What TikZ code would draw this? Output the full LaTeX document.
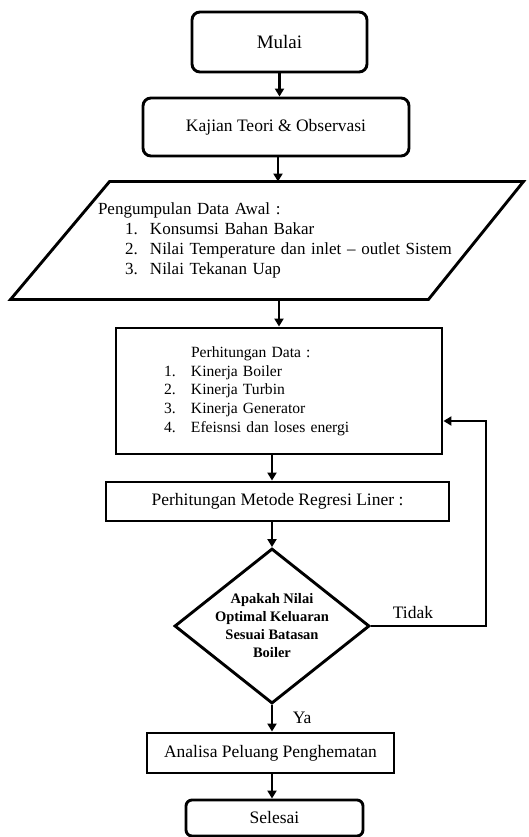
\documentclass[tikz,border=0pt]{standalone}
\usepackage{fontspec}
\setmainfont{Liberation Serif}
\usetikzlibrary{shapes.geometric,arrows.meta}
\begin{document}
\begin{tikzpicture}[
    x=1pt,y=-1pt,
    line width=2.9pt,
    box/.style={draw,align=center,inner sep=0pt,font=\fontsize{17.5}{20}\selectfont},
    rbox/.style={box,rounded corners=8pt},
    arr/.style={-{Triangle[length=8pt,width=9pt]},line width=2.9pt},
    lbl/.style={font=\fontsize{17.5}{20}\selectfont}
]
\path[fill=white,use as bounding box] (0,0) rectangle (528,837);
\node[rbox,minimum width=175pt,minimum height=60pt,font=\fontsize{19}{22}\selectfont] (mulai) at (279.5,42) {Mulai};
\node[rbox,minimum width=266pt,minimum height=58pt] (kajian) at (276,127) {Kajian Teori \& Observasi};
\node[minimum height=115pt,inner xsep=40pt,inner ysep=0pt,text width=354pt,align=left,font=\fontsize{17}{20}\selectfont] (awal) at (275,240.5) {%
  \begin{tabular}{@{\hspace{27pt}}p{25pt}@{}l@{}}
  \multicolumn{2}{@{}l@{}}{Pengumpulan Data Awal :}\\
  1. & Konsumsi Bahan Bakar\\
  2. & Nilai Temperature dan inlet -- outlet Sistem\\
  3. & Nilai Tekanan Uap
  \end{tabular}};
\draw ([xshift=-46pt]awal.south west) -- ([xshift=53pt]awal.north west) -- ([xshift=30pt]awal.north east) -- ([xshift=-65pt]awal.south east) -- cycle;
\node[draw,minimum width=326pt,minimum height=126pt,inner xsep=48pt,inner ysep=0pt,text width=230pt,align=left,font=\fontsize{15.6}{18.75}\selectfont] (data) at (279,391) {%
  \begin{tabular}{@{}p{27pt}@{}l@{}}
  \multicolumn{2}{@{\hspace{27pt}}l@{}}{Perhitungan Data :}\\
  1. & Kinerja Boiler\\
  2. & Kinerja Turbin\\
  3. & Kinerja Generator\\
  4. & Efeisnsi dan loses energi
  \end{tabular}};
\node[box,minimum width=343pt,minimum height=39pt] (regresi) at (277.5,501.5) {Perhitungan Metode Regresi Liner :};
\node[draw,diamond,aspect=1,minimum width=195pt,minimum height=155pt,inner sep=-14pt,align=center,font=\bfseries\fontsize{14.5}{18}\selectfont] (cek) at (272,626) {Apakah Nilai\\Optimal Keluaran\\Sesuai Batasan\\Boiler};
\node[box,minimum width=247pt,minimum height=40pt] (analisa) at (270.5,753) {Analisa Peluang Penghematan};
\node[box,rounded corners=6pt,minimum width=177pt,minimum height=36pt] (selesai) at (274.5,818) {Selesai};
\coordinate (back) at (486,421);
\node[lbl] (tidak) at (413,613) {Tidak};
\draw[arr] (mulai.south) -- (mulai.south |- kajian.north);
\draw[arr] ([xshift=2pt]kajian.south) -- ([xshift=2pt]kajian.south |- awal.north);
\draw[arr] (awal.south -| data.north) -- (data.north);
\draw[arr] (data.south -| cek.north) -- (regresi.north -| cek.north);
\draw[arr] (regresi.south -| cek.north) -- (cek.north);
\draw[arr] (cek.east) -| (back) -- (back -| data.east);
\draw[arr] (cek.south) -- (cek.south |- analisa.north) node[lbl,midway,anchor=west,xshift=16pt] (ya) {Ya};
\draw[arr] (analisa.south -| cek.south) -- (selesai.north -| cek.south);
\end{tikzpicture}
\end{document}
